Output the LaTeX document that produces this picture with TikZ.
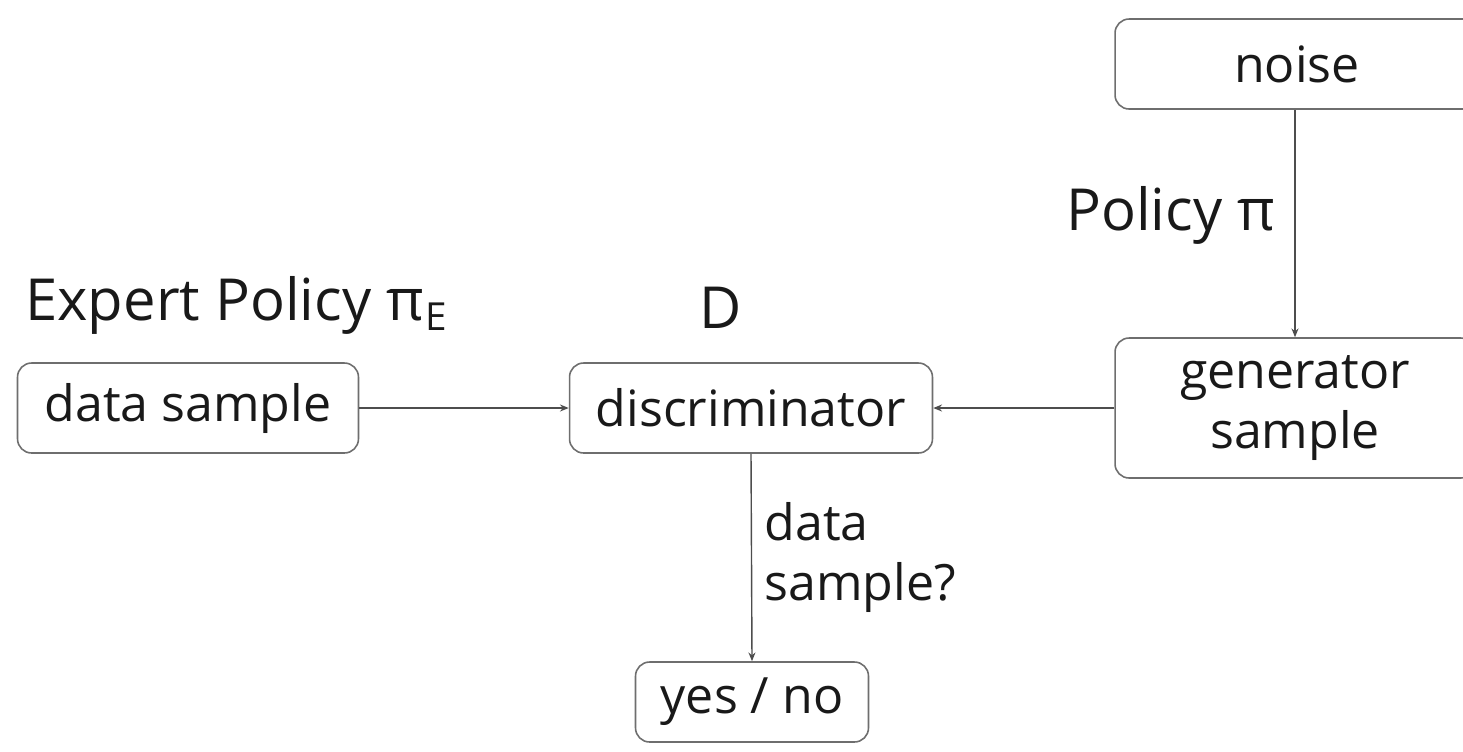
\documentclass[tikz,border=0pt]{standalone}
\usepackage{fontspec}
\setmainfont{Open Sans}
\usetikzlibrary{positioning, arrows.meta}
\definecolor{boxgray}{RGB}{110, 110, 110}
\definecolor{textdark}{RGB}{25, 25, 25}
\tikzset{
  block/.style={
    draw=boxgray,
    line width=0.9pt,
    rounded corners=8pt,
    fill=white,
    align=center,
    inner sep=2pt,
    minimum height=1.8cm,
    font=\fontsize{28.5}{34}\selectfont\color{textdark}
  },
  lbl/.style={
    inner sep=0pt,
    font=\fontsize{28.5}{34}\selectfont\color{textdark}
  },
  biglbl/.style={
    inner sep=0pt,
    font=\fontsize{33}{40}\selectfont\color{textdark}
  },
  link/.style={
    draw=boxgray!70!black,
    line width=0.8pt,
    -{Stealth[length=5pt,width=4pt]}
  }
}

\begin{document}
\begin{tikzpicture}[x=0.02cm, y=-0.02cm]
          \useasboundingbox (0,0) rectangle (1463,751);
          \clip (0,0) rectangle (1463,751);

          \node[block, minimum width=7.28cm] (noise) at (1297, 64) {noise};
          \node[block, minimum width=7.2cm, minimum height=2.8cm] (gen) at (1295, 408) {generator\\sample};
          \node[block, minimum width=6.82cm] (data) at (188, 408) {data sample};
          \node[block, minimum width=7.26cm] (disc) at (751, 408) {discriminator};
          \node[block, minimum width=4.66cm, minimum height=1.6cm] (yesno) at (752, 702) {yes / no};

          \node[biglbl, anchor=base west] (expert) at (25, 320) {Expert Policy π\kern1pt\raisebox{-0.35ex}{\fontsize{22}{22}\selectfont E}};
          \node[biglbl, anchor=base] (dlabel) at (721, 328) {D};
          \node[biglbl, anchor=base west] (policy) at (1066, 230) {Policy π};

          \draw[link] (noise.south -| gen.north) -- (gen.north);
          \draw[link] (data) -- (disc);
          \draw[link] (gen) -- (disc);
          \draw[link] (disc.south) -- node[lbl, right=7pt, align=left]{data\\sample?} (yesno.north);
        \end{tikzpicture}
\end{document}
